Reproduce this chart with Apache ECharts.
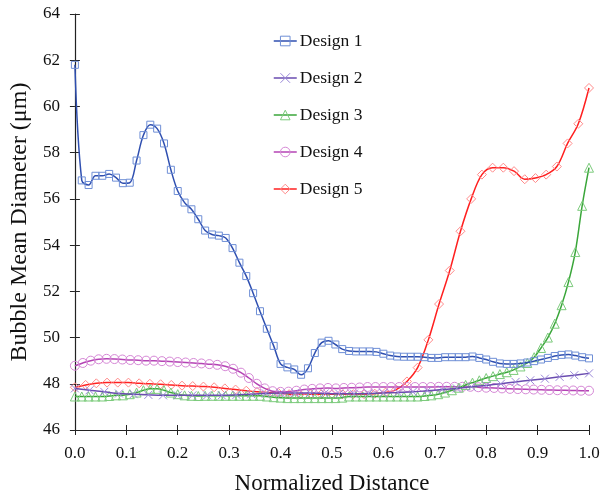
<!DOCTYPE html>
<html><head><meta charset="utf-8">
<script src="https://cdn.jsdelivr.net/npm/echarts@6/dist/echarts.min.js"></script>
<style>html,body{margin:0;padding:0;background:#fff}#c{width:610px;height:500px}</style>
</head><body><div id="c"></div>
<script>
const seriesNames = ['Design 1','Design 2','Design 3','Design 4','Design 5'];
const xTicks = ['0.0','0.1','0.2','0.3','0.4','0.5','0.6','0.7','0.8','0.9','1.0'];
// values sampled on evenly spaced normalized distances (0..1)
const design1 = [61.8,56.8,56.6,57.0,57.0,57.08,56.92,56.68,56.7,57.66,58.76,59.21,59.04,58.4,57.26,56.34,55.84,55.55,55.12,54.63,54.46,54.41,54.31,53.87,53.24,52.66,51.92,51.14,50.38,49.64,48.86,48.71,48.62,48.39,48.67,49.33,49.78,49.86,49.7,49.5,49.42,49.4,49.4,49.4,49.38,49.3,49.22,49.18,49.17,49.17,49.17,49.15,49.12,49.12,49.15,49.15,49.15,49.15,49.18,49.12,49.05,48.95,48.88,48.86,48.86,48.88,48.92,48.98,49.05,49.12,49.2,49.25,49.27,49.22,49.15,49.1];
const design2 = [47.8,47.72,47.65,47.58,47.55,47.52,47.5,47.5,47.5,47.5,47.5,47.52,47.55,47.58,47.6,47.6,47.6,47.58,47.57,47.57,47.58,47.6,47.62,47.65,47.7,47.75,47.8,47.87,47.93,48.0,48.08,48.15,48.22,48.3,48.37,48.45];
const design3 = [47.45,47.45,47.45,47.45,47.45,47.47,47.5,47.5,47.55,47.62,47.72,47.78,47.78,47.72,47.62,47.55,47.5,47.48,47.47,47.48,47.48,47.48,47.48,47.48,47.48,47.48,47.48,47.48,47.45,47.42,47.4,47.38,47.38,47.38,47.38,47.38,47.38,47.38,47.38,47.4,47.45,47.45,47.45,47.45,47.45,47.45,47.45,47.45,47.45,47.45,47.45,47.47,47.5,47.55,47.62,47.72,47.83,47.95,48.05,48.15,48.25,48.33,48.42,48.5,48.6,48.75,48.9,49.15,49.55,50.0,50.6,51.4,52.4,53.7,55.7,57.35];
const design4 = [48.78,48.9,49.0,49.06,49.08,49.07,49.05,49.03,49.02,49.0,49.0,48.98,48.96,48.94,48.92,48.9,48.88,48.85,48.82,48.76,48.65,48.48,48.25,48.0,47.8,47.68,47.65,47.66,47.7,47.75,47.78,47.8,47.82,47.8,47.82,47.83,47.84,47.86,47.86,47.86,47.86,47.86,47.86,47.86,47.86,47.86,47.87,47.87,47.87,47.87,47.87,47.85,47.83,47.82,47.8,47.78,47.77,47.76,47.75,47.74,47.73,47.72,47.72,47.71,47.7,47.7];
const design5 = [47.85,47.95,48.02,48.05,48.05,48.05,48.02,48.0,47.98,47.95,47.92,47.9,47.88,47.85,47.8,47.75,47.7,47.65,47.62,47.6,47.55,47.55,47.55,47.55,47.55,47.55,47.55,47.55,47.57,47.62,47.75,48.1,48.7,49.9,51.45,52.9,54.6,56.0,57.05,57.35,57.35,57.2,56.85,56.9,57.05,57.4,58.4,59.25,60.8];

const lineColors = ['#2F4FB0','#6A4CB0','#3AA63A','#B443B4','#FF2020'];
const markColors = ['#6F8FD6','#9A88D8','#7CCB7C','#D688D6','#FF8A8A'];
const symbols = ['rect','path://M0,0L10,10M10,0L0,10','triangle','circle','diamond'];
const symSizes = [7,8,9,9,9];
const allData = [design1,design2,design3,design4,design5];

function pairs(vals){ const n = vals.length-1; return vals.map((v,i)=>[i/n, v]); }

const font = 'Liberation Serif';
const series = allData.map((d,k)=>({
  name: seriesNames[k], type:'line', data: pairs(d), smooth:0.35,
  symbol: symbols[k], symbolSize: symSizes[k], showAllSymbol:true,
  lineStyle:{color: lineColors[k], width:1.5},
  itemStyle:{color:'rgba(0,0,0,0)', borderColor: markColors[k], borderWidth:1},
  emphasis:{disabled:true}, z: 10-k
}));

const chart = echarts.init(document.getElementById('c'), null, {renderer:'canvas'});
chart.setOption({
  animation:false,
  backgroundColor:'#fff',
  grid:{left:70, right:21, top:14, bottom:64},
  legend:{orient:'vertical', left:268, top:27, itemWidth:23, itemHeight:12, itemGap:19,
    textStyle:{fontFamily:font, fontSize:17.5, color:'#111', padding:[0,0,0,-2]},
    data: seriesNames.map((n,k)=>({name:n, itemStyle:{color:'rgba(0,0,0,0)', borderColor:markColors[k], borderWidth:1}, lineStyle:{color:lineColors[k], width:1.5}}))},
  xAxis:[{type:'value', min:0, max:1, interval:0.1,
    name:'Normalized Distance', nameLocation:'middle', nameGap:42,
    nameTextStyle:{fontFamily:font, fontSize:23, color:'#111'},
    axisLine:{lineStyle:{color:'#222', width:1.2}},
    axisTick:{length:5, lineStyle:{color:'#222'}},
    axisLabel:{fontFamily:font, fontSize:17, color:'#111', margin:15, formatter:(v)=>xTicks[Math.round(v*10)]},
    splitLine:{show:false}},
   {type:'value', min:0, max:1, interval:0.1, position:'bottom', axisLine:{show:false},
    axisTick:{inside:true, length:5, lineStyle:{color:'#222'}}, axisLabel:{show:false}, splitLine:{show:false}}],
  yAxis:[{type:'value', min:46, max:64, interval:2,
    name:'Bubble Mean Diameter (μm)', nameLocation:'middle', nameGap:38,
    nameTextStyle:{fontFamily:font, fontSize:24, color:'#111'},
    axisLine:{show:true, lineStyle:{color:'#222', width:1.2}},
    axisTick:{show:true, length:5, lineStyle:{color:'#222'}},
    axisLabel:{fontFamily:font, fontSize:17, color:'#111', margin:15},
    splitLine:{show:false}},
   {type:'value', min:46, max:64, interval:2, position:'left', axisLine:{show:false},
    axisTick:{show:true, inside:true, length:5, lineStyle:{color:'#222'}}, axisLabel:{show:false}, splitLine:{show:false}}],
  series: series
});
</script></body></html>
